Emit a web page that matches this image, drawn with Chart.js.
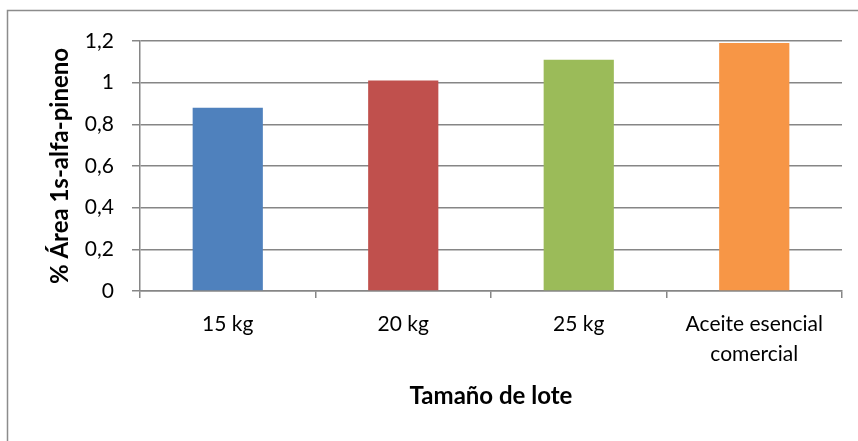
<!DOCTYPE html>
<html>
<head>
<meta charset="utf-8">
<script src="https://cdn.jsdelivr.net/npm/chart.js@4/dist/chart.umd.min.js"></script>
<style>
  html, body { margin: 0; padding: 0; background: #ffffff; }
  #wrap { width: 858px; height: 441px; position: relative; }
</style>
</head>
<body>
<div id="wrap"><canvas id="chart" width="858" height="441"></canvas></div>
<script>
// Batch sizes and the measured 1s-alpha-pinene area percentage
const categories = ['15 kg', '20 kg', '25 kg', ['Aceite esencial', 'comercial']];
const areaValues = [0.88, 1.01, 1.11, 1.19];
const barColors = ['#4F81BD', '#C0504D', '#9BBB59', '#F79646'];
const yTickValues = [0, 0.2, 0.4, 0.6, 0.8, 1, 1.2];
const yTitle = '% Área 1s-alfa-pineno';
const xTitle = 'Tamaño de lote';

const FONT = "Lato, 'Open Sans', 'Liberation Sans', sans-serif";
const GRID = '#868686';

// Frame around the chart (left and top edges; the rest falls off the canvas)
const frame = {
  id: 'frame',
  beforeDraw(chart) {
    const ctx = chart.ctx;
    ctx.save();
    ctx.fillStyle = '#ffffff';
    ctx.fillRect(0, 0, chart.width, chart.height);
    ctx.strokeStyle = '#8c8c8c';
    ctx.lineWidth = 1.5;
    ctx.strokeRect(7.5, 10.5, chart.width + 20, chart.height + 20);
    ctx.restore();
  }
};

new Chart(document.getElementById('chart'), {
  type: 'bar',
  data: {
    labels: categories,
    datasets: [{
      data: areaValues,
      backgroundColor: barColors,
      borderWidth: 0,
      barPercentage: 0.4,
      categoryPercentage: 1.0
    }]
  },
  options: {
    responsive: false,
    animation: false,
    devicePixelRatio: 1,
    layout: { padding: { left: 8, top: 41, right: 16, bottom: 0 } },
    plugins: {
      legend: { display: false },
      tooltip: { enabled: false }
    },
    scales: {
      x: {
        offset: true,
        grid: {
          offset: true,
          drawOnChartArea: false,
          drawTicks: true,
          tickLength: 7,
          color: GRID,
          lineWidth: 1.5
        },
        border: { color: GRID, width: 1.5 },
        ticks: {
          color: '#000000',
          font: { family: FONT, size: 21, lineHeight: 1.4 },
          padding: 12,
          maxRotation: 0,
          autoSkip: false
        },
        title: {
          display: true,
          text: xTitle,
          color: '#000000',
          font: { family: FONT, size: 24, weight: 'bold' },
          padding: { top: 0, bottom: 30 }
        },
        afterFit(scale) { scale.height = 441 - 291; }
      },
      y: {
        min: 0,
        max: 1.2,
        afterBuildTicks(scale) {
          scale.ticks = yTickValues.map(v => ({ value: v }));
        },
        grid: {
          color: GRID,
          lineWidth: 1.5,
          drawTicks: true,
          tickLength: 8
        },
        border: { color: GRID, width: 1.5 },
        ticks: {
          color: '#000000',
          font: { family: FONT, size: 21 },
          padding: 18,
          callback: v => String(Math.round(v * 10) / 10).replace('.', ',')
        },
        title: {
          display: true,
          text: yTitle,
          color: '#000000',
          font: { family: FONT, size: 24, weight: 'bold' },
          padding: { top: 38, bottom: 0 }
        },
        afterFit(scale) { scale.width = 140 - 8; }
      }
    }
  },
  plugins: [frame]
});
</script>
</body>
</html>
